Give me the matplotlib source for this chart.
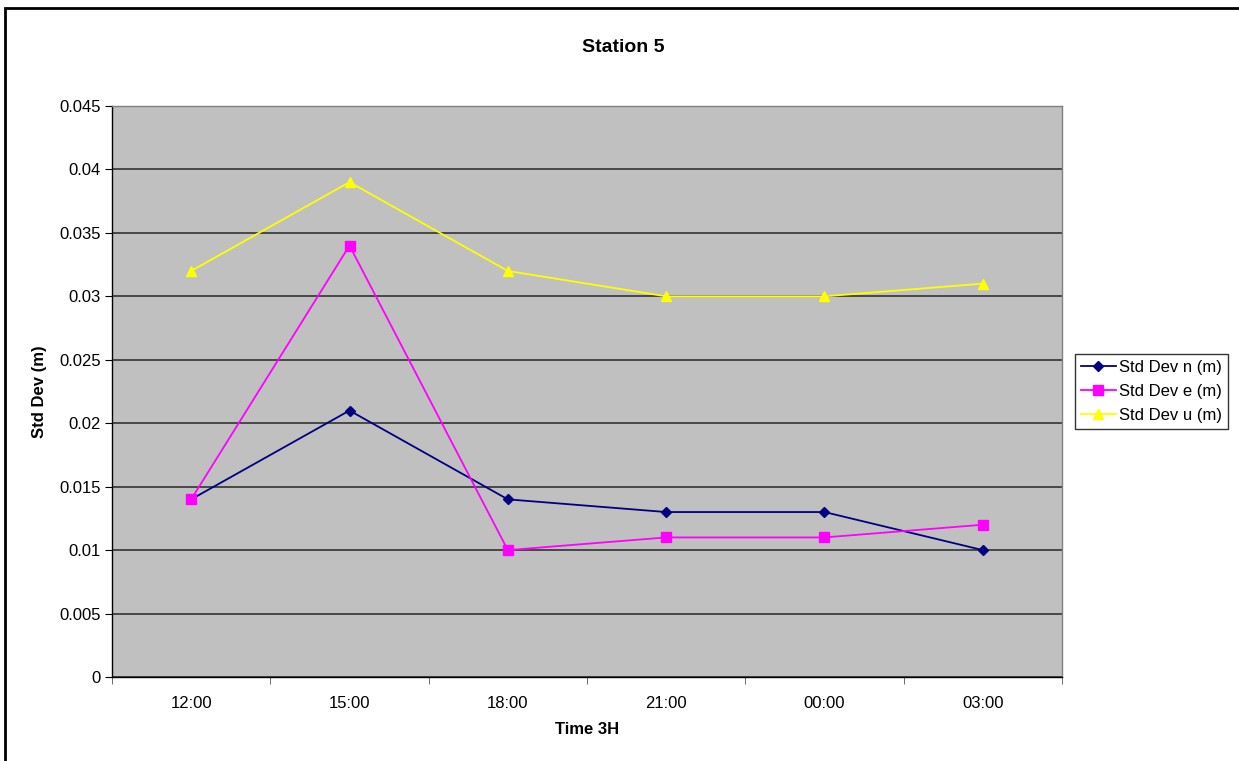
import matplotlib
matplotlib.use("Agg")
import matplotlib.pyplot as plt
from matplotlib.patches import Rectangle
import numpy as np

plt.rcParams['font.family'] = ['Liberation Sans', 'DejaVu Sans']

times = ["12:00", "15:00", "18:00", "21:00", "00:00", "03:00"]
std_n = [0.014, 0.021, 0.014, 0.013, 0.013, 0.010]
std_e = [0.014, 0.034, 0.010, 0.011, 0.011, 0.012]
std_u = [0.032, 0.039, 0.032, 0.030, 0.030, 0.031]
y_ticks = [0, 0.005, 0.01, 0.015, 0.02, 0.025, 0.03, 0.035, 0.04, 0.045]
y_tick_labels = ["0", "0.005", "0.01", "0.015", "0.02", "0.025", "0.03", "0.035", "0.04", "0.045"]

W, H = 1239, 761
fig = plt.figure(figsize=(W / 100, H / 100), dpi=100)
fig.patch.set_facecolor("white")

# outer chart border (runs off the right and bottom edges)
fig.add_artist(Rectangle((5 / W, -0.02), 1.05, (H - 8) / H + 0.02,
                         transform=fig.transFigure, fill=False,
                         edgecolor="black", linewidth=2))

left, right, top, bottom = 112, 1062, 106, 677
ax = fig.add_axes([left / W, 1 - bottom / H, (right - left) / W, (bottom - top) / H])
ax.set_facecolor("#C0C0C0")

x = np.arange(len(times))
ax.plot(x, std_n, color="#000080", marker="D", markersize=5.5, linewidth=1.3, label="Std Dev n (m)")
ax.plot(x, std_e, color="#FF00FF", marker="s", markersize=7, linewidth=1.3, label="Std Dev e (m)")
ax.plot(x, std_u, color="#FFFF00", marker="^", markersize=7.5, linewidth=1.3, label="Std Dev u (m)")

ax.set_xlim(-0.5, len(times) - 0.5)
ax.set_ylim(0, 0.045)
ax.set_yticks(y_ticks)
ax.set_yticklabels(y_tick_labels, fontsize=12)
ax.yaxis.grid(True, color="#333333", linewidth=1.2)
ax.set_axisbelow(True)

ax.set_xticks(x)
ax.set_xticklabels(times, fontsize=12)
ax.set_xticks(np.arange(-0.5, len(times)), minor=True)
ax.tick_params(axis="x", which="major", length=0, pad=14)
ax.tick_params(axis="x", which="minor", length=5, color="#555555")
ax.tick_params(axis="y", length=5, color="black", pad=3)

for s in ["top", "right"]:
    ax.spines[s].set_color("#808080")
    ax.spines[s].set_linewidth(1)
for s in ["left", "bottom"]:
    ax.spines[s].set_color("black")
    ax.spines[s].set_linewidth(1)

fig.text(623 / W, 1 - 47 / H, "Station 5", ha="center", va="center",
         fontsize=14, fontweight="bold")
fig.text(40 / W, 1 - (top + bottom) / 2 / H, "Std Dev (m)", ha="center", va="center",
         rotation=90, fontsize=12, fontweight="bold")
fig.text((left + right) / 2 / W, 1 - 730 / H, "Time 3H", ha="center", va="center",
         fontsize=12, fontweight="bold")

leg = fig.legend(loc="upper left", bbox_to_anchor=(1075 / W, 1 - 354 / H),
                 frameon=True, fancybox=False, fontsize=12, handlelength=2.1,
                 handletextpad=0.2, borderpad=0.35, labelspacing=0.55,
                 borderaxespad=0)
leg.get_frame().set_edgecolor("black")
leg.get_frame().set_linewidth(1)

fig.savefig("out.png", dpi=100, facecolor="white")
